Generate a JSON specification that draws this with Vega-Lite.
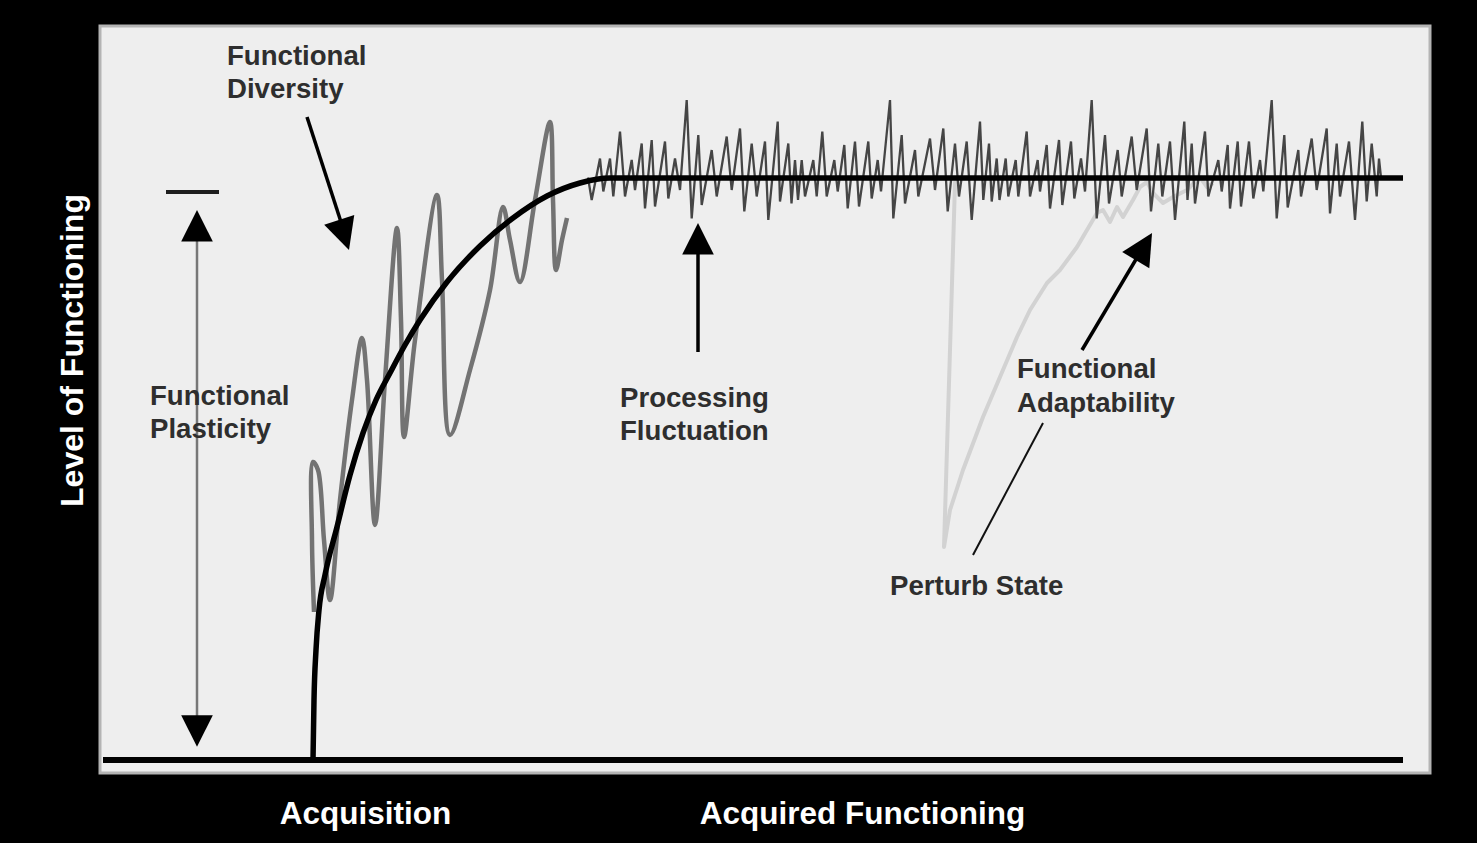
{
  "$schema": "https://vega.github.io/schema/vega-lite/v6.json",
  "width": 1330,
  "height": 747,
  "autosize": {"type": "none"},
  "padding": {"left": 100, "top": 26, "right": 47, "bottom": 70},
  "background": "#000000",
  "config": {
    "view": {"fill": "#eeeeee", "stroke": "#b4b4b4", "strokeWidth": 3},
    "font": "Liberation Sans"
  },
  "datasets": {
    "perturb": [
      {"i": 0, "x": 956, "level": 582}, {"i": 1, "x": 955, "level": 577}, {"i": 2, "x": 950, "level": 410},
      {"i": 3, "x": 944, "level": 213}, {"i": 4, "x": 950, "level": 250}, {"i": 5, "x": 963, "level": 290},
      {"i": 6, "x": 983, "level": 343}, {"i": 7, "x": 1000, "level": 383}, {"i": 8, "x": 1017, "level": 423},
      {"i": 9, "x": 1030, "level": 450}, {"i": 10, "x": 1047, "level": 477}, {"i": 11, "x": 1060, "level": 490},
      {"i": 12, "x": 1077, "level": 513}, {"i": 13, "x": 1097, "level": 547}, {"i": 14, "x": 1103, "level": 550},
      {"i": 15, "x": 1110, "level": 538}, {"i": 16, "x": 1117, "level": 553}, {"i": 17, "x": 1123, "level": 543},
      {"i": 18, "x": 1133, "level": 560}, {"i": 19, "x": 1140, "level": 573}, {"i": 20, "x": 1147, "level": 578},
      {"i": 21, "x": 1153, "level": 567}, {"i": 22, "x": 1163, "level": 557}, {"i": 23, "x": 1173, "level": 563},
      {"i": 24, "x": 1187, "level": 570}, {"i": 25, "x": 1200, "level": 583}, {"i": 26, "x": 1207, "level": 573},
      {"i": 27, "x": 1213, "level": 577}
    ],
    "diversity": [
      {"i": 0, "x": 314, "level": 148}, {"i": 1, "x": 312, "level": 220}, {"i": 2, "x": 313, "level": 298},
      {"i": 3, "x": 318, "level": 290}, {"i": 4, "x": 324, "level": 220}, {"i": 5, "x": 330, "level": 160},
      {"i": 6, "x": 340, "level": 260}, {"i": 7, "x": 352, "level": 360}, {"i": 8, "x": 362, "level": 422},
      {"i": 9, "x": 367, "level": 380}, {"i": 10, "x": 375, "level": 235}, {"i": 11, "x": 385, "level": 380},
      {"i": 12, "x": 397, "level": 532}, {"i": 13, "x": 401, "level": 440}, {"i": 14, "x": 404, "level": 323},
      {"i": 15, "x": 415, "level": 420}, {"i": 16, "x": 437, "level": 565}, {"i": 17, "x": 442, "level": 480},
      {"i": 18, "x": 450, "level": 325}, {"i": 19, "x": 470, "level": 390}, {"i": 20, "x": 490, "level": 470},
      {"i": 21, "x": 503, "level": 553}, {"i": 22, "x": 510, "level": 520}, {"i": 23, "x": 520, "level": 478},
      {"i": 24, "x": 535, "level": 560}, {"i": 25, "x": 550, "level": 638}, {"i": 26, "x": 553, "level": 560},
      {"i": 27, "x": 556, "level": 490}, {"i": 28, "x": 562, "level": 520}, {"i": 29, "x": 567, "level": 542}
    ],
    "noise": [
      {"x": 588, "level": 582.5}, {"x": 591.7, "level": 560}, {"x": 600, "level": 601.5}, {"x": 603.3, "level": 568.5},
      {"x": 610, "level": 601.5}, {"x": 613.3, "level": 563.5}, {"x": 620, "level": 628.5}, {"x": 625, "level": 563.5},
      {"x": 631.7, "level": 600}, {"x": 635, "level": 570}, {"x": 641.7, "level": 616.5}, {"x": 645, "level": 551.5},
      {"x": 651.7, "level": 620}, {"x": 655, "level": 553.5}, {"x": 665, "level": 618.5}, {"x": 668.3, "level": 561.5},
      {"x": 675, "level": 601.5}, {"x": 680, "level": 570}, {"x": 686.7, "level": 660}, {"x": 691.7, "level": 541.5},
      {"x": 698.3, "level": 625}, {"x": 701.7, "level": 555}, {"x": 711.7, "level": 610}, {"x": 716.7, "level": 563.5},
      {"x": 726.7, "level": 623.5}, {"x": 731.7, "level": 570}, {"x": 740, "level": 631.5}, {"x": 744.3, "level": 548.5},
      {"x": 751.7, "level": 616.5}, {"x": 756.7, "level": 563.5}, {"x": 765, "level": 618.5}, {"x": 768.3, "level": 540},
      {"x": 777.7, "level": 638.5}, {"x": 780, "level": 558.5}, {"x": 788.3, "level": 616.5}, {"x": 791.5, "level": 556.5},
      {"x": 795, "level": 600}, {"x": 798, "level": 560}, {"x": 801.7, "level": 600}, {"x": 805, "level": 563.5},
      {"x": 813.3, "level": 600}, {"x": 816.7, "level": 563.5}, {"x": 822.3, "level": 628.5}, {"x": 826.7, "level": 563.5},
      {"x": 834.3, "level": 600}, {"x": 837.7, "level": 568.5}, {"x": 844.3, "level": 615}, {"x": 847.7, "level": 551.5},
      {"x": 855, "level": 618.5}, {"x": 859, "level": 553.5}, {"x": 868.3, "level": 618.5}, {"x": 871.7, "level": 561.5},
      {"x": 877.7, "level": 600}, {"x": 881, "level": 568.5}, {"x": 890, "level": 660}, {"x": 893.3, "level": 541.5},
      {"x": 901.7, "level": 625}, {"x": 905, "level": 556.5}, {"x": 915, "level": 610}, {"x": 918.3, "level": 563.5},
      {"x": 930, "level": 621.5}, {"x": 935, "level": 570}, {"x": 943.3, "level": 631.5}, {"x": 947.7, "level": 548.5},
      {"x": 955, "level": 616.5}, {"x": 959, "level": 563.5}, {"x": 966.7, "level": 618.5}, {"x": 971.7, "level": 540},
      {"x": 980, "level": 638.5}, {"x": 983.3, "level": 560}, {"x": 989, "level": 616.5}, {"x": 991.7, "level": 558.5},
      {"x": 996.7, "level": 601.5}, {"x": 999.5, "level": 560}, {"x": 1005.7, "level": 601.5}, {"x": 1008.3, "level": 563.5},
      {"x": 1015.7, "level": 600}, {"x": 1018.3, "level": 563.5}, {"x": 1026.7, "level": 628.5}, {"x": 1030, "level": 563.5},
      {"x": 1037.7, "level": 600}, {"x": 1040, "level": 568.5}, {"x": 1046.7, "level": 615}, {"x": 1050, "level": 551.5},
      {"x": 1059, "level": 620}, {"x": 1062.3, "level": 555}, {"x": 1071, "level": 618.5}, {"x": 1074.3, "level": 561.5},
      {"x": 1081, "level": 601.5}, {"x": 1085, "level": 568.5}, {"x": 1091.7, "level": 660}, {"x": 1096.7, "level": 541.5},
      {"x": 1105, "level": 625}, {"x": 1109, "level": 556.5}, {"x": 1117.7, "level": 610}, {"x": 1121.7, "level": 563.5},
      {"x": 1131.7, "level": 623.5}, {"x": 1136.7, "level": 570}, {"x": 1146.7, "level": 631.5}, {"x": 1151, "level": 548.5},
      {"x": 1158.3, "level": 616.5}, {"x": 1162.3, "level": 563.5}, {"x": 1170, "level": 618.5}, {"x": 1175, "level": 540},
      {"x": 1184.3, "level": 638.5}, {"x": 1187.5, "level": 560}, {"x": 1191.7, "level": 616.5}, {"x": 1195, "level": 556.5},
      {"x": 1205, "level": 628.5}, {"x": 1208.3, "level": 563.5}, {"x": 1218.3, "level": 600}, {"x": 1221.7, "level": 568.5},
      {"x": 1227.7, "level": 615}, {"x": 1230, "level": 551.5}, {"x": 1237.7, "level": 618.5}, {"x": 1241, "level": 553.5},
      {"x": 1249, "level": 618.5}, {"x": 1253.3, "level": 561.5}, {"x": 1260, "level": 600}, {"x": 1263.3, "level": 568.5},
      {"x": 1271.7, "level": 660}, {"x": 1276.7, "level": 541.5}, {"x": 1284.3, "level": 625}, {"x": 1287.7, "level": 552.5},
      {"x": 1298.3, "level": 610}, {"x": 1301, "level": 563.5}, {"x": 1311.7, "level": 621.5}, {"x": 1316.7, "level": 570},
      {"x": 1326.7, "level": 631.5}, {"x": 1330, "level": 546.5}, {"x": 1336.7, "level": 616.5}, {"x": 1340, "level": 563.5},
      {"x": 1349, "level": 618.5}, {"x": 1355, "level": 540}, {"x": 1362.3, "level": 638.5}, {"x": 1366.7, "level": 558.5},
      {"x": 1371.7, "level": 616.5}, {"x": 1376.7, "level": 563.5}, {"x": 1379, "level": 601.5}, {"x": 1381, "level": 582.5}
    ],
    "curve": [
      {"x": 313, "level": 0}, {"x": 314, "level": 60}, {"x": 316, "level": 110}, {"x": 319, "level": 150},
      {"x": 325, "level": 185}, {"x": 337, "level": 233}, {"x": 350, "level": 285}, {"x": 363, "level": 327},
      {"x": 376, "level": 360}, {"x": 390, "level": 387}, {"x": 405, "level": 415}, {"x": 420, "level": 440},
      {"x": 447, "level": 478}, {"x": 480, "level": 514}, {"x": 513, "level": 542}, {"x": 547, "level": 564},
      {"x": 580, "level": 577}, {"x": 610, "level": 582}, {"x": 1403, "level": 582}
    ],
    "baseline": [
      {"x": 103, "level": 0}, {"x": 1403, "level": 0}
    ],
    "rules": [
      {"part": "plasticity", "x": 197, "level": 523, "x2": 197, "level2": 43},
      {"part": "cap", "x": 166, "level": 568, "x2": 219, "level2": 568},
      {"part": "arrow", "x": 307, "level": 643, "x2": 341, "level2": 538},
      {"part": "arrow", "x": 698, "level": 408, "x2": 698, "level2": 510},
      {"part": "arrow", "x": 1082, "level": 410, "x2": 1138, "level2": 504},
      {"part": "pointer", "x": 973, "level": 205, "x2": 1043, "level2": 337}
    ],
    "heads": [
      {"x": 197, "level": 534.2, "dir": 0},
      {"x": 197, "level": 29, "dir": 180},
      {"x": 344.1, "level": 525, "dir": 162},
      {"x": 698, "level": 521.2, "dir": 0},
      {"x": 1143.9, "level": 513.4, "dir": 31}
    ],
    "labels": [
      {"x": 227, "level": 695.5, "label": "Functional"},
      {"x": 227, "level": 662, "label": "Diversity"},
      {"x": 150, "level": 355, "label": "Functional"},
      {"x": 150, "level": 322, "label": "Plasticity"},
      {"x": 620, "level": 353, "label": "Processing"},
      {"x": 620, "level": 320, "label": "Fluctuation"},
      {"x": 1017, "level": 382, "label": "Functional"},
      {"x": 1017, "level": 348.5, "label": "Adaptability"},
      {"x": 890, "level": 165, "label": "Perturb State"}
    ]
  },
  "encoding": {
    "x": {
      "field": "x", "type": "quantitative",
      "scale": {"domain": [100, 1430], "nice": false, "zero": false},
      "axis": {
        "values": [365, 862],
        "labelExpr": "datum.value == 365 ? 'Acquisition' : 'Acquired Functioning'",
        "title": null, "domain": false, "ticks": false, "tickSize": 0, "grid": false,
        "labelColor": "#ffffff", "labelFont": "Liberation Sans", "labelFontSize": 31.5, "labelFontWeight": "bold",
        "labelPadding": 50, "labelBaseline": "alphabetic", "labelAngle": 0, "labelAlign": "center",
        "labelFlush": false, "labelOverlap": false, "labelLimit": 0
      }
    },
    "y": {
      "field": "level", "type": "quantitative",
      "scale": {"domain": [-13, 734], "nice": false, "zero": false},
      "axis": {
        "title": "Level of Functioning", "domain": false, "ticks": false, "labels": false, "grid": false,
        "titleColor": "#ffffff", "titleFont": "Liberation Sans", "titleFontSize": 32, "titleFontWeight": "bold",
        "titleAngle": -90, "titleX": -18, "titleY": 324, "titleAlign": "center", "titleBaseline": "alphabetic",
        "titleLimit": 0
      }
    }
  },
  "layer": [
    {
      "data": {"name": "perturb"},
      "mark": {"type": "line", "color": "#d2d2d2", "strokeWidth": 4, "strokeJoin": "round"},
      "encoding": {"order": {"field": "i", "type": "quantitative"}}
    },
    {
      "data": {"name": "diversity"},
      "mark": {"type": "line", "color": "#737373", "strokeWidth": 4.5, "interpolate": "catmull-rom", "strokeJoin": "round"},
      "encoding": {"order": {"field": "i", "type": "quantitative"}}
    },
    {
      "data": {"name": "noise"},
      "mark": {"type": "line", "color": "#454545", "strokeWidth": 2.3},
      "encoding": {}
    },
    {
      "data": {"name": "curve"},
      "mark": {"type": "line", "color": "#000000", "strokeWidth": 5.5, "interpolate": "monotone"},
      "encoding": {}
    },
    {
      "data": {"name": "baseline"},
      "mark": {"type": "line", "color": "#000000", "strokeWidth": 6},
      "encoding": {}
    },
    {
      "data": {"name": "rules"},
      "transform": [{"filter": "datum.part == 'plasticity'"}],
      "mark": {"type": "rule", "color": "#777777", "strokeWidth": 2.5},
      "encoding": {"x2": {"field": "x2"}, "y2": {"field": "level2"}}
    },
    {
      "data": {"name": "rules"},
      "transform": [{"filter": "datum.part == 'cap'"}],
      "mark": {"type": "rule", "color": "#1e1e1e", "strokeWidth": 4},
      "encoding": {"x2": {"field": "x2"}, "y2": {"field": "level2"}}
    },
    {
      "data": {"name": "rules"},
      "transform": [{"filter": "datum.part == 'arrow'"}],
      "mark": {"type": "rule", "color": "#000000", "strokeWidth": 3.5},
      "encoding": {"x2": {"field": "x2"}, "y2": {"field": "level2"}}
    },
    {
      "data": {"name": "rules"},
      "transform": [{"filter": "datum.part == 'pointer'"}],
      "mark": {"type": "rule", "color": "#111111", "strokeWidth": 2},
      "encoding": {"x2": {"field": "x2"}, "y2": {"field": "level2"}}
    },
    {
      "data": {"name": "heads"},
      "mark": {"type": "point", "shape": "M0,-1L-1,1L1,1Z", "filled": true, "color": "#000000", "opacity": 1, "size": 1000, "strokeWidth": 0},
      "encoding": {"angle": {"field": "dir", "type": "quantitative", "scale": null}}
    },
    {
      "data": {"name": "labels"},
      "mark": {"type": "text", "align": "left", "baseline": "alphabetic", "font": "Liberation Sans", "fontSize": 27.6, "fontWeight": "bold", "color": "#2e2e2e"},
      "encoding": {"text": {"field": "label"}}
    }
  ]
}
